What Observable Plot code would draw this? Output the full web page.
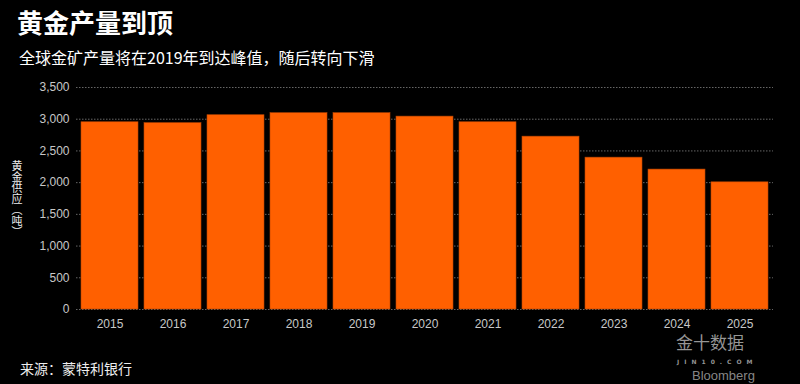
<!DOCTYPE html>
<html>
<head>
<meta charset="utf-8">
<script src="https://cdn.jsdelivr.net/npm/d3@7"></script>
<script src="https://cdn.jsdelivr.net/npm/@observablehq/plot@0.6"></script>
<style>
  html, body { margin: 0; padding: 0; background: #000; }
  body { width: 800px; height: 384px; position: relative; overflow: hidden; font-family: "Noto Sans CJK SC", "Noto Sans", sans-serif; color: #fff; }
  .abs { position: absolute; white-space: nowrap; }
  #title { left: 17px; top: 4px; font-size: 26px; font-weight: 700; line-height: 36px; }
  #subtitle { left: 19px; top: 46px; font-size: 16px; line-height: 22px; }
  #ylabel { left: 11px; top: 160px; font-size: 11px; line-height: 12px; writing-mode: vertical-rl; text-orientation: upright; color: #eee; font-family: "Noto Sans CJK SC", sans-serif; }
  #source { left: 20px; top: 358px; font-size: 14px; line-height: 20px; color: #eee; }
  #chart { left: 0; top: 75px; }
  #wm1 { left: 676px; top: 333px; font-size: 17px; line-height: 17px; color: rgba(200,200,200,0.75); }
  #wm2 { left: 677px; top: 359px; font-size: 6px; letter-spacing: 5px; line-height: 6px; color: rgba(200,200,200,0.75); font-family: "DejaVu Sans", sans-serif; font-weight: 700; }
  #wm3 { left: 692px; top: 369px; font-size: 13px; line-height: 14px; color: rgba(170,170,170,0.8); font-family: "Liberation Sans", sans-serif; }
</style>
</head>
<body>
<div id="title" class="abs">黄金产量到顶</div>
<div id="subtitle" class="abs">全球金矿产量将在2019年到达峰值，随后转向下滑</div>
<div id="ylabel" class="abs">黄金供应︵吨︶</div>
<div id="chart" class="abs"></div>
<div id="source" class="abs">来源：蒙特利银行</div>
<div id="wm1" class="abs">金十数据</div>
<div id="wm2" class="abs">JIN10.COM</div>
<div id="wm3" class="abs">Bloomberg</div>
<script>
const years = ["2015","2016","2017","2018","2019","2020","2021","2022","2023","2024","2025"];
const supply = [2952, 2938, 3063, 3095, 3095, 3041, 2952, 2725, 2394, 2206, 2005];
const yTicks = [0, 500, 1000, 1500, 2000, 2500, 3000, 3500];

const data = years.map((y, i) => ({year: y, value: supply[i]}));

const chart = Plot.plot({
  width: 800,
  height: 270,
  marginTop: 12,
  marginBottom: 36,
  marginLeft: 76,
  marginRight: 27,
  style: { background: "transparent", color: "#c8c8c8", fontFamily: "'Liberation Sans', 'Noto Sans', sans-serif", fontSize: "12px" },
  x: { domain: years, paddingInner: 0.1, paddingOuter: 0.08, label: null, tickSize: 0, tickPadding: 10 },
  y: { domain: [0, 3500], ticks: yTicks, label: null, tickSize: 0, tickPadding: 7, tickFormat: d3.format(",") },
  marks: [
    Plot.ruleY(yTicks, { stroke: "#666", strokeDasharray: "1.5,1.5", strokeWidth: 1 }),
    Plot.barY(data, { x: "year", y: "value", fill: "#ff6000", stroke: "#b84500", strokeWidth: 0.6 })
  ]
});
document.getElementById("chart").appendChild(chart);
</script>
</body>
</html>
